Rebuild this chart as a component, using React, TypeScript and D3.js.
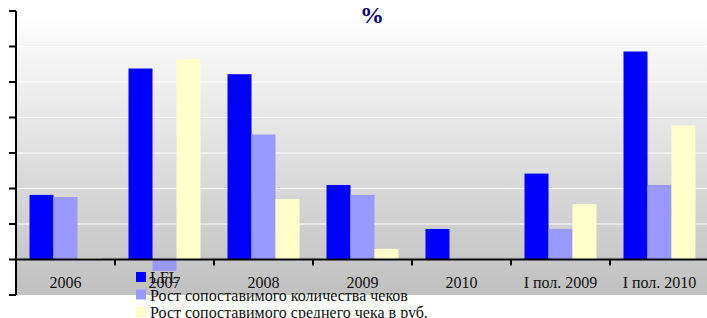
import React from "react";
import * as d3 from "d3";

const categories = ["2006", "2007", "2008", "2009", "2010", "I пол. 2009", "I пол. 2010"];
const seriesNames = [
  "LFL",
  "Рост сопоставимого количества чеков",
  "Рост сопоставимого среднего чека в руб.",
];
const lfl = [9.1, 26.9, 26.1, 10.5, 4.3, 12.1, 29.3];
const checksCount = [8.8, -1.6, 17.6, 9.1, 0, 4.3, 10.5];
const avgCheck = [0.2, 28.2, 8.5, 1.5, 0, 7.8, 18.9];
const yTicks = [-5, 0, 5, 10, 15, 20, 25, 30, 35];
const colors = ["#0000ff", "#9999ff", "#ffffcc"];

const W = 707;
const H = 318;

export default function App() {
  const series = [lfl, checksCount, avgCheck];
  const x0 = 16;
  const x1 = 709;
  const y = d3.scaleLinear().domain([-5, 35]).range([295, 11]);
  const xb = d3.scaleBand().domain(categories).range([x0, x1]).paddingInner(0).paddingOuter(0);
  const bw = xb.bandwidth();
  const groupW = bw * 0.727;
  const xs = d3.scaleBand().domain(["0", "1", "2"]).range([0, groupW]).padding(0);
  const y0 = y(0);

  return (
    <svg
      width={W}
      height={H}
      style={{ position: "absolute", left: 0, top: 0, display: "block" }}
      fontFamily="'Liberation Serif', 'Times New Roman', serif"
    >
      <defs>
        <linearGradient id="bg" x1="0" y1="0" x2="0" y2="1">
          <stop offset="0" stopColor="#ffffff" />
          <stop offset="1" stopColor="#c0c0c0" />
        </linearGradient>
      </defs>
      <rect x={0} y={0} width={W} height={H} fill="#ffffff" />
      <rect x={x0} y={y(35)} width={W - x0} height={y(-5) - y(35)} fill="url(#bg)" />
      {yTicks
        .filter((t) => t !== 0 && t !== -5 && t !== 35)
        .map((t) => (
          <line key={"g" + t} x1={x0} x2={W} y1={y(t)} y2={y(t)} stroke="#ffffff" strokeWidth={1} />
        ))}
      {categories.map((c, i) => (
        <g key={c} transform={`translate(${(xb(c) as number) + (bw - groupW) / 2},0)`}>
          {series.map((s, k) => {
            const v = s[i];
            const top = Math.min(y(v), y0);
            const h = Math.abs(y(v) - y0);
            return (
              <rect
                key={k}
                x={xs(String(k)) as number}
                y={top}
                width={xs.bandwidth()}
                height={h}
                fill={colors[k]}
              />
            );
          })}
        </g>
      ))}
      {/* y axis */}
      <line x1={x0} x2={x0} y1={y(35)} y2={y(-5)} stroke="#000" strokeWidth={2} />
      {yTicks.map((t) => (
        <line key={"t" + t} x1={x0 - 7} x2={x0} y1={y(t)} y2={y(t)} stroke="#000" strokeWidth={2} />
      ))}
      {/* x axis */}
      <line x1={x0} x2={W} y1={y0} y2={y0} stroke="#000" strokeWidth={2} />
      {categories.slice(1).map((c) => (
        <line
          key={"xt" + c}
          x1={xb(c) as number}
          x2={xb(c) as number}
          y1={y0}
          y2={y0 + 6}
          stroke="#000"
          strokeWidth={2}
        />
      ))}
      {categories.map((c) => (
        <text
          key={"xl" + c}
          x={(xb(c) as number) + bw / 2}
          y={288}
          textAnchor="middle"
          fontSize={16}
          fill="#111"
        >
          {c}
        </text>
      ))}
      {/* title */}
      <text x={372} y={23} textAnchor="middle" fontSize={24} fontWeight="bold" fill="#000080">
        %
      </text>
      {/* legend */}
      {seriesNames.map((n, k) => (
        <g key={n} transform={`translate(136,${272 + k * 17.5})`}>
          <rect x={0} y={0} width={10} height={10} fill={colors[k]} />
          <text x={14} y={11} fontSize={16} fill="#111">
            {n}
          </text>
        </g>
      ))}
    </svg>
  );
}
